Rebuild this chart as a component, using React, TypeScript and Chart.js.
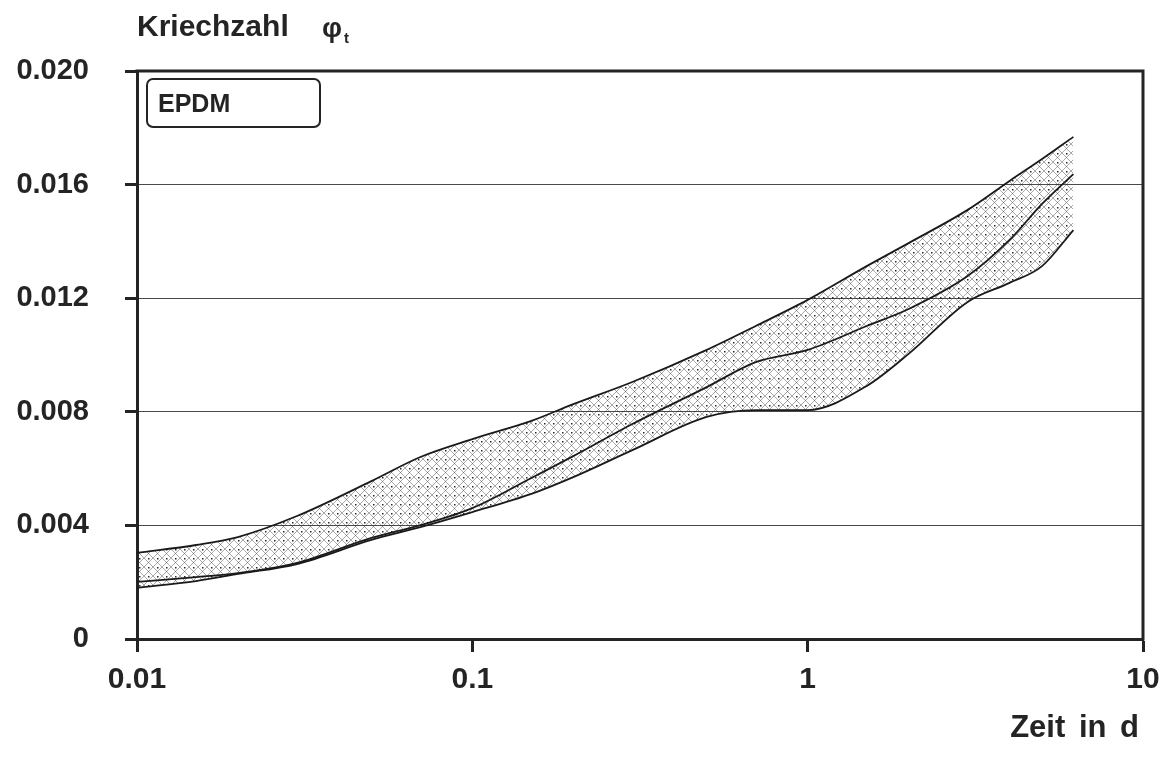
import React, { useEffect, useRef } from "react";
import { Chart, registerables } from "chart.js";

Chart.register(...registerables);

// Zeit in d (log scale)
const times = [0.01, 0.015, 0.02, 0.03, 0.05, 0.07, 0.1, 0.15, 0.2, 0.3, 0.5, 0.7, 1, 1.5, 2, 3, 4, 5, 6.2];
// Kriechzahl – upper bound of the band
const upperBound = [0.00303, 0.00331, 0.00359, 0.00433, 0.00556, 0.00641, 0.00704, 0.00768, 0.00827, 0.00905, 0.01018, 0.01102, 0.01194, 0.01313, 0.01394, 0.01511, 0.01613, 0.0169, 0.01768];
// Kriechzahl – middle curve
const meanCurve = [0.00201, 0.00218, 0.00232, 0.00268, 0.00356, 0.00401, 0.00461, 0.00567, 0.00644, 0.00757, 0.00887, 0.00975, 0.01018, 0.01102, 0.01162, 0.01278, 0.01405, 0.01532, 0.01637];
// Kriechzahl – lower bound of the band
const lowerBound = [0.0018, 0.00204, 0.00229, 0.00264, 0.00349, 0.00394, 0.00447, 0.00511, 0.0057, 0.00665, 0.00782, 0.00806, 0.00806, 0.00891, 0.01004, 0.01187, 0.01254, 0.01313, 0.0144];

const xTickValues = [0.01, 0.1, 1, 10];
const xTickLabels = ["0.01", "0.1", "1", "10"];
const yTickValues = [0, 0.004, 0.008, 0.012, 0.016, 0.02];
const yTickLabels = ["0", "0.004", "0.008", "0.012", "0.016", "0.020"];

const INK = "#242424";
const FONT = '"Liberation Sans", Arial, sans-serif';

function makePattern(): CanvasPattern | string {
  const c = document.createElement("canvas");
  c.width = 9;
  c.height = 9;
  const g = c.getContext("2d");
  if (!g) return "rgba(0,0,0,0.15)";
  g.strokeStyle = "rgba(40,40,40,0.5)";
  g.lineWidth = 0.8;
  g.beginPath();
  g.moveTo(0, 0);
  g.lineTo(9, 9);
  g.moveTo(9, 0);
  g.lineTo(0, 9);
  g.stroke();
  g.fillStyle = "rgba(15,15,15,0.9)";
  g.fillRect(4, 0, 1.5, 1.5);
  const p = g.createPattern(c, "repeat");
  return p || "rgba(0,0,0,0.15)";
}

const framePlugin = {
  id: "frameAndText",
  afterDraw(chart: any) {
    const { ctx, chartArea } = chart;
    const { left, right, top, bottom } = chartArea;
    ctx.save();
    // top and right frame
    ctx.strokeStyle = INK;
    ctx.lineWidth = 3;
    ctx.beginPath();
    ctx.moveTo(left - 1.5, top);
    ctx.lineTo(right, top);
    ctx.lineTo(right, bottom + 1.5);
    ctx.stroke();

    // legend box
    ctx.lineWidth = 2;
    ctx.beginPath();
    (ctx as any).roundRect(147, 79, 173, 48, 6);
    ctx.stroke();
    ctx.fillStyle = INK;
    ctx.textBaseline = "alphabetic";
    ctx.textAlign = "left";
    ctx.font = `bold 25px ${FONT}`;
    ctx.fillText("EPDM", 158, 112);

    // y title
    ctx.font = `bold 30px ${FONT}`;
    ctx.fillText("Kriechzahl", 137, 36);
    ctx.font = `bold 28px ${FONT}`;
    ctx.fillText("φ", 322, 37);
    ctx.font = `bold 15px ${FONT}`;
    ctx.fillText("t", 344, 43);

    // x title
    ctx.font = `bold 31px ${FONT}`;
    ctx.textAlign = "right";
    (ctx as any).wordSpacing = "5px";
    ctx.fillText("Zeit in d", 1139, 737);
    ctx.restore();
  },
};

export default function App() {
  const ref = useRef<HTMLCanvasElement | null>(null);

  useEffect(() => {
    if (!ref.current) return;
    const pattern = makePattern();
    const toPts = (arr: number[]) => times.map((t, i) => ({ x: t, y: arr[i] }));
    const lineBase = {
      borderColor: "#1a1a1a",
      borderWidth: 1.8,
      pointRadius: 0,
      cubicInterpolationMode: "monotone" as const,
    };
    const chart = new Chart(ref.current, {
      type: "line",
      data: {
        datasets: [
          { ...lineBase, label: "upper", data: toPts(upperBound), fill: "+2", backgroundColor: pattern as any },
          { ...lineBase, label: "mean", data: toPts(meanCurve), fill: false },
          { ...lineBase, label: "lower", data: toPts(lowerBound), fill: false },
        ],
      },
      options: {
        animation: false,
        responsive: false,
        layout: { padding: { left: 0, top: 71, right: 21, bottom: 0 } },
        plugins: { legend: { display: false }, tooltip: { enabled: false } },
        scales: {
          x: {
            type: "logarithmic",
            min: 0.01,
            max: 10,
            afterBuildTicks: (s: any) => {
              s.ticks = xTickValues.map((v) => ({ value: v, major: true }));
            },
            afterFit: (s: any) => {
              s.height = 125;
              s.paddingLeft = 0;
              s.paddingRight = 0;
            },
            ticks: {
              autoSkip: false,
              maxRotation: 0,
              padding: 10,
              color: INK,
              font: { family: FONT, size: 30, weight: "bold" },
              callback: (v: any) => {
                const i = xTickValues.findIndex((x) => Math.abs(x - Number(v)) < 1e-9);
                return i >= 0 ? xTickLabels[i] : "";
              },
            },
            grid: { drawOnChartArea: false, tickLength: 13, tickWidth: 3, tickColor: INK },
            border: { display: true, width: 3, color: INK },
          },
          y: {
            type: "linear",
            min: 0,
            max: 0.02,
            afterBuildTicks: (s: any) => {
              s.ticks = yTickValues.map((v) => ({ value: v }));
            },
            afterFit: (s: any) => {
              s.width = 137;
              s.paddingTop = 0;
              s.paddingBottom = 0;
            },
            ticks: {
              padding: 36,
              color: INK,
              font: { family: FONT, size: 29, weight: "bold" },
              callback: (v: any) => {
                const i = yTickValues.findIndex((x) => Math.abs(x - Number(v)) < 1e-9);
                return i >= 0 ? yTickLabels[i] : "";
              },
            },
            grid: { color: "#4a4a4a", lineWidth: 1, tickLength: 12, tickWidth: 3, tickColor: INK },
            border: { display: true, width: 3, color: INK },
          },
        },
      },
      plugins: [framePlugin],
    });
    return () => chart.destroy();
  }, []);

  return (
    <div style={{ position: "absolute", left: 0, top: 0, width: 1164, height: 764, background: "#fff" }}>
      <canvas ref={ref} width={1164} height={764} style={{ display: "block" }} />
    </div>
  );
}
